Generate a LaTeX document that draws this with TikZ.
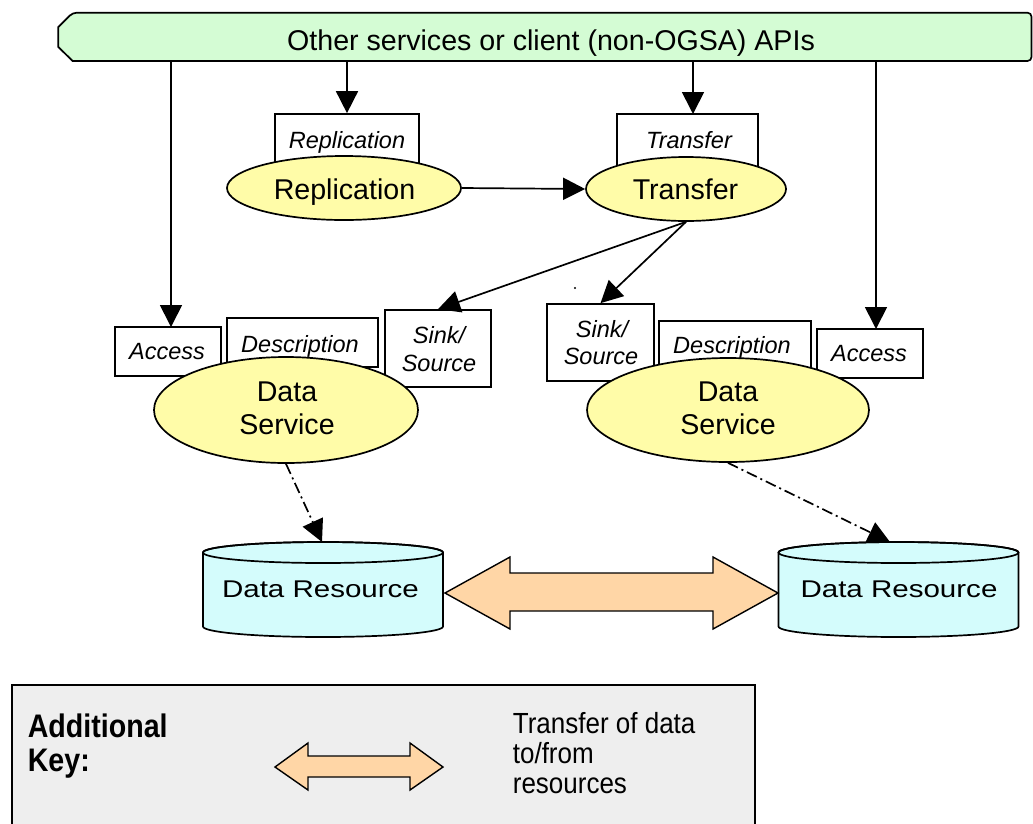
\documentclass[tikz,border=0pt]{standalone}
\usepackage{fontspec}
\setmainfont{Liberation Sans}
\usetikzlibrary{arrows.meta,shapes.geometric,calc}
\definecolor{bannerfill}{HTML}{D4FCD4}
\definecolor{ellfill}{HTML}{FFFCA8}
\definecolor{cylfill}{HTML}{D4FCFC}
\definecolor{arrfill}{HTML}{FFD6A6}
\definecolor{keyfill}{HTML}{EEEEEE}
\begin{document}
\begin{tikzpicture}[x=1pt,y=-1pt,line width=1.7pt,
  lbl/.style={draw,fill=white,inner sep=0pt},
  svc/.style={ellipse,draw,fill=ellfill,inner sep=0pt},
  arr/.style={-{Triangle[length=22pt,width=22pt]}},
  dd/.style={arr,dash pattern=on 11pt off 4pt on 2pt off 4pt},
  maintxt/.style={font=\fontsize{28.6}{34}\selectfont,inner sep=0pt,anchor=base},
  ittxt/.style={font=\fontsize{23.5}{27}\selectfont\itshape,inner sep=0pt,anchor=base},
  keytxt/.style={font=\fontsize{26}{30}\selectfont,inner sep=0pt,anchor=base west},
  keybold/.style={font=\fontsize{28.6}{34}\selectfont\bfseries,inner sep=0pt,anchor=base west}]
\useasboundingbox (0,0) rectangle (1033,823);
\clip (0,0) rectangle (1033,823);

% banner
\draw[fill=bannerfill] (72.7,12.7) -- (58.3,27) -- (58.3,47) -- (72.7,61)
  [rounded corners=4pt] -- (1031.5,61) -- (1031.5,12.7) -- cycle;
\node[inner sep=0pt,minimum width=973pt,minimum height=48pt] (banner) at (544.9,36.85) {};
\node[maintxt] (bannerT) at (551,50) {Other services or client (non-OGSA) APIs};

% named arrow ends
\coordinate (aL) at (171,327);
\coordinate (aT) at (693,114);
\coordinate (aR) at (876,329);
\coordinate (cL) at (322,542);
\coordinate (cR) at (890,542);

% arrows from banner
\draw[arr] (banner.south -| aL) -- (aL);
\draw[arr] (banner.south -| aT) -- (aT);
\draw[arr] (banner.south -| aR) -- (aR);

% label boxes
\node[lbl,minimum width=144pt,minimum height=56pt] (repbox) at (347,142) {};
\node[lbl,minimum width=141pt,minimum height=56pt] (trbox) at (687.5,142) {};
\draw[arr] (banner.south -| repbox.north) -- (repbox.north);
\node[lbl,minimum width=106pt,minimum height=49pt] (accL) at (168,351.5) {};
\node[lbl,minimum width=151pt,minimum height=49pt] (descL) at (302.5,342.5) {};
\node[lbl,minimum width=106pt,minimum height=77pt] (sinkL) at (438,348.5) {};
\node[lbl,minimum width=107pt,minimum height=77pt] (sinkR) at (600.5,342.5) {};
\node[lbl,minimum width=152pt,minimum height=51pt] (descR) at (735,346.5) {};
\node[lbl,minimum width=106pt,minimum height=49pt] (accR) at (870,353.5) {};

\node[ittxt] (repboxT) at (347,148) {Replication};
\node[ittxt] (trboxT) at (689,148) {Transfer};
\node[ittxt] (accLT) at (167,359) {Access};
\node[ittxt] (descLT) at (300,352) {Description};
\node[ittxt] (sinkLT1) at (439,343) {Sink/};
\node[ittxt] (sinkLT2) at (439,371) {Source};
\node[ittxt] (sinkRT1) at (602,337) {Sink/};
\node[ittxt] (sinkRT2) at (601,364) {Source};
\node[ittxt] (descRT) at (732,353) {Description};
\node[ittxt] (accRT) at (869,361) {Access};

% services
\node[svc,minimum width=234pt,minimum height=64pt] (rep) at (344,188) {};
\node[svc,minimum width=200pt,minimum height=64pt] (tr) at (686,189) {};
\node[svc,minimum width=264pt,minimum height=106pt] (dsL) at (286,410) {};
\node[svc,minimum width=282pt,minimum height=104pt] (dsR) at (728,410) {};
\node[maintxt] (repT) at (344.5,199.3) {Replication};
\node[maintxt] (trT) at (685.5,199.3) {Transfer};
\node[maintxt] (dsLT1) at (287,401) {Data};
\node[maintxt] (dsLT2) at (287,434) {Service};
\node[maintxt] (dsRT1) at (728,401) {Data};
\node[maintxt] (dsRT2) at (728,434) {Service};

\draw[arr] (rep.east) -- (tr.west);
\draw[arr] (tr.south) -- (sinkL.north);
\draw[arr] (tr.south) -- (sinkR.north);
\fill (575,288) circle (1.1pt);

% data resources
\draw[fill=cylfill] (203,552.5) -- (203,626.5) arc[start angle=180,end angle=360,x radius=120pt,y radius=10.5pt]
  -- (443,552.5) arc[start angle=0,end angle=180,x radius=120pt,y radius=10.5pt] -- cycle;
\draw (323,552.5) ellipse[x radius=120pt,y radius=10.5pt];
\draw[fill=cylfill] (778.5,552.5) -- (778.5,626.5) arc[start angle=180,end angle=360,x radius=120pt,y radius=10.5pt]
  -- (1018.5,552.5) arc[start angle=0,end angle=180,x radius=120pt,y radius=10.5pt] -- cycle;
\draw (898.5,552.5) ellipse[x radius=120pt,y radius=10.5pt];
\node[inner sep=0pt,anchor=base,font=\fontsize{24.2}{29}\selectfont] (drL) at (320.5,597) {\scalebox{1.22}[1]{Data Resource}};
\node[inner sep=0pt,anchor=base,font=\fontsize{24.2}{29}\selectfont] (drR) at (899,597) {\scalebox{1.22}[1]{Data Resource}};

% dash-dot links
\draw[dd] (dsL.south) -- (cL);
\draw[dd] (dsR.south) -- (cR);

% transfer double arrow
\draw[fill=arrfill,line width=1.4pt] (445,593) -- (510,557) -- (510,573) -- (713,573) -- (713,557) -- (778,593)
  -- (713,629) -- (713,611) -- (510,611) -- (510,629) -- cycle;

% key
\draw[fill=keyfill] (12,685) rectangle (755,830);
\node[keybold] (keyA) at (27,737) {\scalebox{1}[1.14]{Additional}};
\node[keybold] (keyB) at (27,771) {\scalebox{1}[1.14]{Key:}};
\draw[fill=arrfill,line width=1.4pt] (275,767) -- (308,743) -- (308,756) -- (410,756) -- (410,743) -- (443,767)
  -- (410,790) -- (410,777) -- (308,777) -- (308,790) -- cycle;
\node[keytxt] (keyT1) at (512,733) {\scalebox{1}[1.12]{Transfer of data}};
\node[keytxt] (keyT2) at (512,763) {\scalebox{1}[1.12]{to/from}};
\node[keytxt] (keyT3) at (512,793) {\scalebox{1}[1.12]{resources}};
\end{tikzpicture}
\end{document}
